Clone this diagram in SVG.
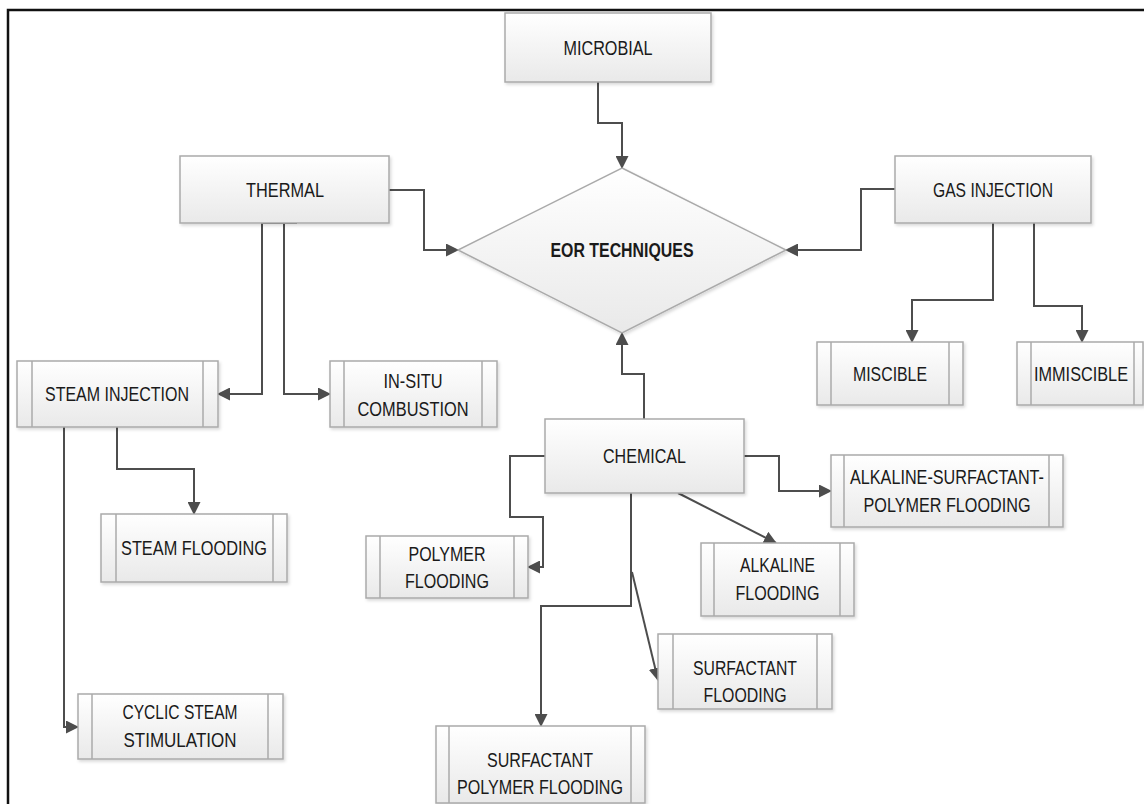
<svg xmlns="http://www.w3.org/2000/svg" width="1144" height="804" viewBox="0 0 1144 804">
  <defs>
    <linearGradient id="boxFill" x1="0" y1="0" x2="0" y2="1">
      <stop offset="0" stop-color="#ffffff"/>
      <stop offset="1" stop-color="#e9e9e9"/>
    </linearGradient>
    <filter id="shadow" x="-5%" y="-5%" width="110%" height="115%">
      <feDropShadow dx="1.5" dy="2" stdDeviation="1.5" flood-color="#000" flood-opacity="0.15"/>
    </filter>
    <marker id="arrow" markerUnits="userSpaceOnUse" markerWidth="13" markerHeight="13" refX="12" refY="6.5" orient="auto">
      <path d="M0,0 L13,6.5 L0,13 z" fill="#4d4d4d"/>
    </marker>
    <style>
      .box { fill: url(#boxFill); stroke: #aaaaaa; stroke-width: 1.5; filter: url(#shadow); }
      .bar { stroke: #aaaaaa; stroke-width: 1.5; fill: none; }
      .lbl { font-family: "Liberation Sans", Arial, sans-serif; font-size: 19.5px; fill: #1a1a1a; text-anchor: middle; }
      .bold { font-weight: bold; }
      .wire-a { fill: none; stroke: #4d4d4d; stroke-width: 2; marker-end: url(#arrow); }
    </style>
  </defs>

  <rect width="1144" height="804" fill="#ffffff"/>
  <!-- frame (left and top edges visible) -->
  <rect x="8" y="10" width="1200" height="900" fill="none" stroke="#111" stroke-width="2.5"/>

  <!-- connectors -->
  <g id="connectors">
    <path class="wire-a" d="M598,82 V123 H622 V168"/>
    <path class="wire-a" d="M389,190 H424 V250 H458"/>
    <path class="wire-a" d="M895,189 H861 V250 H786"/>
    <path class="wire-a" d="M993,223 V300 H912 V342"/>
    <path class="wire-a" d="M1034,223 V306 H1082 V342"/>
    <path class="wire-a" d="M297,223 H262 V394 H218"/>
    <path class="wire-a" d="M284,223 V394 H330"/>
    <path class="wire-a" d="M117,427 V469 H194 V514"/>
    <path class="wire-a" d="M64,427 V727 H78"/>
    <path class="wire-a" d="M644,419 V374 H622 V333"/>
    <path class="wire-a" d="M545,456 H510 V517 H543 V567 H528"/>
    <path class="wire-a" d="M631,493 V606 H541 V726"/>
    <path class="wire-a" d="M632,572 L658,680"/>
    <path class="wire-a" d="M678,493 L776,543"/>
    <path class="wire-a" d="M744,456 H779 V491 H831"/>
  </g>

  <g id="microbial">
    <rect class="box" x="505" y="13" width="206" height="69"/>
    <text class="lbl" x="608" y="55" textLength="89" lengthAdjust="spacingAndGlyphs">MICROBIAL</text>
  </g>

  <g id="thermal">
    <rect class="box" x="180" y="156" width="209" height="67"/>
    <text class="lbl" x="285" y="197" textLength="78" lengthAdjust="spacingAndGlyphs">THERMAL</text>
  </g>

  <g id="gas-injection">
    <rect class="box" x="895" y="156" width="196" height="67"/>
    <text class="lbl" x="993" y="197" textLength="120" lengthAdjust="spacingAndGlyphs">GAS INJECTION</text>
  </g>

  <g id="eor-techniques">
    <polygon class="box" points="622,168 786,250 622,333 458,250"/>
    <text class="lbl bold" x="622" y="257" textLength="143" lengthAdjust="spacingAndGlyphs">EOR TECHNIQUES</text>
  </g>

  <g id="miscible">
    <rect class="box" x="817" y="342" width="146" height="63"/>
    <path class="bar" d="M831,342 V405 M949,342 V405"/>
    <text class="lbl" x="890" y="381" textLength="74" lengthAdjust="spacingAndGlyphs">MISCIBLE</text>
  </g>

  <g id="immiscible">
    <rect class="box" x="1017" y="342" width="126" height="63"/>
    <path class="bar" d="M1031,342 V405 M1134,342 V405"/>
    <text class="lbl" x="1081" y="381" font-size="17" textLength="94" lengthAdjust="spacingAndGlyphs">IMMISCIBLE</text>
  </g>

  <g id="steam-injection">
    <rect class="box" x="17" y="361" width="201" height="66"/>
    <path class="bar" d="M32,361 V427 M203,361 V427"/>
    <text class="lbl" x="117" y="401" textLength="144" lengthAdjust="spacingAndGlyphs">STEAM INJECTION</text>
  </g>

  <g id="in-situ-combustion">
    <rect class="box" x="330" y="361" width="167" height="66"/>
    <path class="bar" d="M344,361 V427 M482,361 V427"/>
    <text class="lbl" x="413" y="388" textLength="59" lengthAdjust="spacingAndGlyphs">IN-SITU</text>
    <text class="lbl" x="413" y="416" textLength="111" lengthAdjust="spacingAndGlyphs">COMBUSTION</text>
  </g>

  <g id="steam-flooding">
    <rect class="box" x="101" y="514" width="186" height="68"/>
    <path class="bar" d="M116,514 V582 M273,514 V582"/>
    <text class="lbl" x="194" y="555" textLength="146" lengthAdjust="spacingAndGlyphs">STEAM FLOODING</text>
  </g>

  <g id="cyclic-steam-stimulation">
    <rect class="box" x="78" y="694" width="205" height="65"/>
    <path class="bar" d="M92,694 V759 M268,694 V759"/>
    <text class="lbl" x="180" y="719" textLength="115" lengthAdjust="spacingAndGlyphs">CYCLIC STEAM</text>
    <text class="lbl" x="180" y="747" textLength="113" lengthAdjust="spacingAndGlyphs">STIMULATION</text>
  </g>

  <g id="chemical">
    <rect class="box" x="545" y="419" width="199" height="74"/>
    <text class="lbl" x="644.5" y="463" textLength="83" lengthAdjust="spacingAndGlyphs">CHEMICAL</text>
  </g>

  <g id="polymer-flooding">
    <rect class="box" x="366" y="536" width="162" height="62"/>
    <path class="bar" d="M380,536 V598 M514,536 V598"/>
    <text class="lbl" x="447" y="561" textLength="77" lengthAdjust="spacingAndGlyphs">POLYMER</text>
    <text class="lbl" x="447" y="588" textLength="84" lengthAdjust="spacingAndGlyphs">FLOODING</text>
  </g>

  <g id="alkaline-flooding">
    <rect class="box" x="701" y="543" width="153" height="73"/>
    <path class="bar" d="M714,543 V616 M840,543 V616"/>
    <text class="lbl" x="777.5" y="572" textLength="75" lengthAdjust="spacingAndGlyphs">ALKALINE</text>
    <text class="lbl" x="777.5" y="600" textLength="84" lengthAdjust="spacingAndGlyphs">FLOODING</text>
  </g>

  <g id="surfactant-flooding">
    <rect class="box" x="658" y="634" width="174" height="75"/>
    <path class="bar" d="M673,634 V709 M817,634 V709"/>
    <text class="lbl" x="745" y="675" textLength="104" lengthAdjust="spacingAndGlyphs">SURFACTANT</text>
    <text class="lbl" x="745" y="702" textLength="83" lengthAdjust="spacingAndGlyphs">FLOODING</text>
  </g>

  <g id="surfactant-polymer-flooding">
    <rect class="box" x="436" y="726" width="209" height="77"/>
    <path class="bar" d="M449,726 V803 M631,726 V803"/>
    <text class="lbl" x="540" y="767" textLength="106" lengthAdjust="spacingAndGlyphs">SURFACTANT</text>
    <text class="lbl" x="540" y="794" textLength="166" lengthAdjust="spacingAndGlyphs">POLYMER FLOODING</text>
  </g>

  <g id="asp-flooding">
    <rect class="box" x="831" y="455" width="232" height="72"/>
    <path class="bar" d="M844,455 V527 M1049,455 V527"/>
    <text class="lbl" x="947" y="484" textLength="194" lengthAdjust="spacingAndGlyphs">ALKALINE-SURFACTANT-</text>
    <text class="lbl" x="947" y="512" textLength="167" lengthAdjust="spacingAndGlyphs">POLYMER FLOODING</text>
  </g>
</svg>
